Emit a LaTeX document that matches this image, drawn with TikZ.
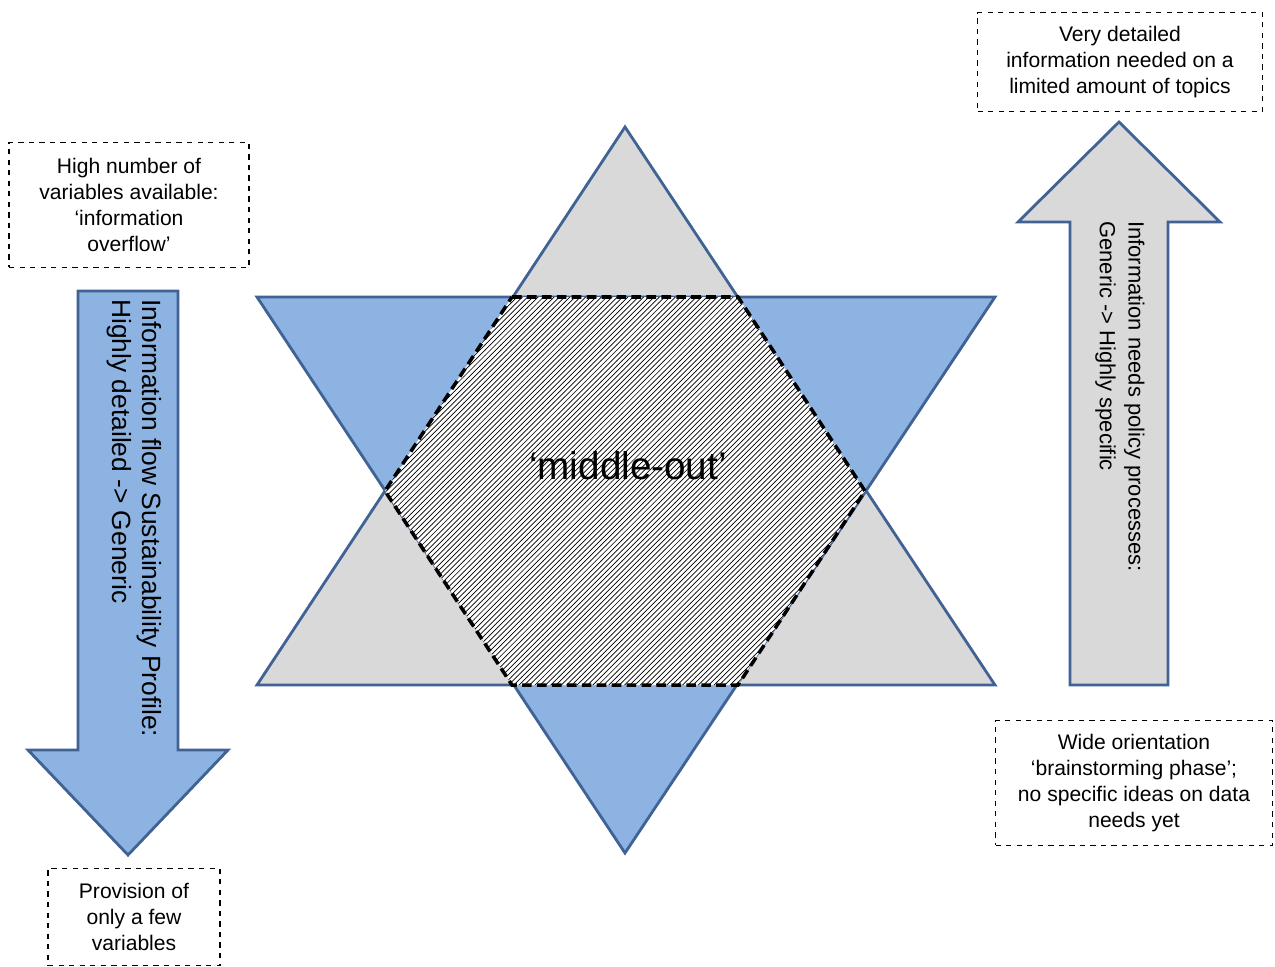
\documentclass[tikz,border=0pt]{standalone}
\usepackage{fontspec}
\setmainfont{Liberation Sans}
\usetikzlibrary{patterns}

\definecolor{bordure}{RGB}{64,98,148}
\definecolor{bleuclair}{RGB}{141,179,226}
\definecolor{grisclair}{RGB}{217,217,217}

\tikzset{
  boite/.style={draw, dashed, line width=0.6pt, fill=white, align=center, inner sep=2pt,
    font=\fontsize{12}{14.8}\selectfont},
  fleche/.style={draw=bordure, line width=1.6pt, line join=miter},
  texterot/.style={anchor=north west, align=left, inner sep=0pt}
}

\begin{document}
\begin{tikzpicture}[x=0.02cm, y=-0.02cm]
\useasboundingbox (0,0) rectangle (1275,967);

% Etoile
\draw[fleche, fill=grisclair] (625,127) -- (995,685) -- (257,685) -- cycle;
\draw[fleche, fill=bleuclair] (257,297) -- (995,297) -- (625,853) -- cycle;

% Hexagone central
\fill[white] (512,297) -- (738,297) -- (865,491) -- (738,685) -- (512,685) -- (385,491) -- cycle;
\fill[pattern=north east lines] (512,297) -- (738,297) -- (865,491) -- (738,685) -- (512,685) -- (385,491) -- cycle;
\draw[line width=2pt, dash pattern=on 5.5pt off 3pt] (512,297) -- (738,297) -- (865,491) -- (738,685) -- (512,685) -- (385,491) -- cycle;
\node[font=\fontsize{22}{26}\selectfont] (milieu) at (628,466) {‘middle-out’};

% Fleches
\draw[fleche, fill=bleuclair] (78,291) -- (178,291) -- (178,750) -- (228,750) -- (128,855) -- (28,750) -- (78,750) -- cycle;
\node[texterot, rotate=-90, font=\fontsize{15}{17}\selectfont] (flux) at (162,299) {Information flow Sustainability Profile:\\Highly detailed -> Generic};

\draw[fleche, fill=grisclair] (1070,685) -- (1168,685) -- (1168,222) -- (1220,222) -- (1119,122) -- (1018,222) -- (1070,222) -- cycle;
\node[texterot, rotate=-90, font=\fontsize{12.5}{16.5}\selectfont] (besoins) at (1145,221) {Information needs policy processes:\\Generic -> Highly specific};

% Boites
\node[boite, minimum width=4.8cm, minimum height=2.5cm] (haut) at (129,205) {High number of\\variables available:\\‘information\\overflow’};
\node[boite, minimum width=3.44cm, minimum height=1.94cm] (bas) at (134,917) {Provision of\\only a few\\variables};
\node[boite, minimum width=5.7cm, minimum height=1.98cm] (detail) at (1120,62) {Very detailed\\information needed on a\\limited amount of topics};
\node[boite, minimum width=5.54cm, minimum height=2.5cm] (large) at (1134,783) {Wide orientation\\‘brainstorming phase’;\\no specific ideas on data\\needs yet};

\end{tikzpicture}
\end{document}
